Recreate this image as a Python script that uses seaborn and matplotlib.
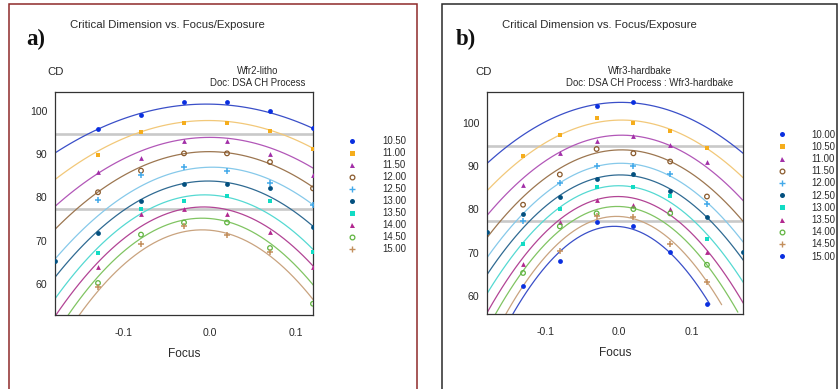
import numpy as np
import pandas as pd
import matplotlib
matplotlib.use("Agg")
import matplotlib.pyplot as plt
import seaborn as sns
from matplotlib.lines import Line2D
from matplotlib.patches import Rectangle

# ---------------- data ----------------
focus = [-0.13, -0.08, -0.03, 0.02, 0.07, 0.12]
NA = np.nan

# panel a) Wfr2-litho
doses_a = ["10.50", "11.00", "11.50", "12.00", "12.50", "13.00", "13.50", "14.00", "14.50", "15.00"]
cd_a = [
    [95.8, 99.1, 102.2, 102.2, 100.1, 96.1],
    [89.8, 95.2, 97.3, 97.3, 95.4, 91.3],
    [85.8, 89.1, 93.1, 93.1, 90.1, 85.2],
    [81.2, 86.2, 90.2, 90.2, 88.2, 82.1],
    [79.3, 85.3, 87.1, 86.2, 83.3, 78.2],
    [71.8, 79.2, 83.2, 83.2, 82.2, 73.2],
    [67.1, 77.3, 79.2, 80.3, 79.2, 67.4],
    [63.9, 76.1, 77.3, 76.1, 72.1, 64.0],
    [60.2, 71.4, 74.2, 74.2, 68.3, 55.4],
    [59.2, 69.3, 73.4, 71.4, 67.3, NA],
]
extra_a_focus = [-0.18]
extra_a_dose = ["13.00"]
extra_a_cd = [65.2]
# fitted curve: apex CD, best focus, curvature
peak_a = [101.6, 97.8, 93.9, 90.6, 87.0, 83.8, 80.6, 77.8, 75.2, 72.5]
best_a = [-0.004, -0.002, 0.0, -0.001, 0.003, -0.002, -0.006, -0.007, -0.009, -0.009]
curv_a = [365, 431, 493, 561, 635, 703, 794, 846, 925, 967]

# panel b) Wfr3-hardbake
doses_b = ["10.00", "10.50", "11.00", "11.50", "12.00", "12.50", "13.00", "13.50", "14.00", "14.50", "15.00 "]
cd_b = [
    [NA, NA, 104.0, 104.9, NA, NA],
    [92.3, 97.2, 101.2, 100.1, 98.2, 94.2],
    [85.7, 93.0, 95.9, 97.0, 94.9, 91.1],
    [81.1, 88.1, 94.0, 93.0, 91.1, 83.0],
    [77.4, 86.1, 90.1, 90.1, 88.1, 81.2],
    [78.9, 83.0, 87.1, 88.1, 84.2, 78.2],
    [72.0, 80.1, 85.1, 85.1, 83.1, 73.2],
    [67.4, 77.2, 82.1, 81.1, 80.2, 70.1],
    [65.3, 76.1, 79.1, 80.1, 79.1, 67.2],
    [NA, 70.3, 78.4, 78.2, 72.1, 63.1],
    [62.2, 68.1, 77.2, 76.2, 70.1, 58.2],
]
extra_b_focus = [-0.179, 0.169]
extra_b_dose = ["12.50", "12.50"]
extra_b_cd = [74.8, 70.1]
peak_b = [104.8, 100.7, 97.2, 93.8, 90.7, 88.0, 85.5, 83.0, 80.7, 78.4, 76.1]
best_b = [0.003, 0.004, 0.004, 0.004, 0.003, 0.002, 0.0, -0.001, -0.002, -0.003, -0.006]
curv_b = [427, 489, 555, 607, 660, 705, 780, 850, 910, 1000, 1068]
curve_end_b = [0.17, 0.17, 0.17, 0.17, 0.17, 0.17, 0.17, 0.17, 0.162, 0.14, 0.124]

spec_limits = [94.6, 77.4]

# ---------------- styles ----------------
BLUE = ("#0a2fe0", "#3a4fc8")
GOLD = ("#f5ad1c", "#f2c879")
PURP = ("#a22fa8", "#b257b8")
BROWN = ("#8a5a2c", "#9c7650")
LBLUE = ("#43a9ea", "#86c9ea")
DTEAL = ("#03507f", "#2f6a92")
TURQ = ("#12dcc4", "#55d9d2")
MAG = ("#b2288f", "#b24495")
GREEN = ("#5fb43f", "#80c462")
TAN = ("#c38f5d", "#c9a37f")

seq = [
    (BLUE, "o", True), (GOLD, "s", True), (PURP, "^", True), (BROWN, "o", False),
    (LBLUE, "+", True), (DTEAL, "o", True), (TURQ, "s", True), (MAG, "^", True),
    (GREEN, "o", False), (TAN, "+", True),
]
style_a = {d: seq[i] for i, d in enumerate(doses_a)}
style_b = {d: seq[i % 10] for i, d in enumerate(doses_b)}

sns.set_theme(style="white")
plt.rcParams["font.family"] = ["Liberation Sans", "DejaVu Sans"]
TXT = "#2a2a2a"

fig = plt.figure(figsize=(8.4, 3.89), dpi=100)


def px(x, y):
    return x / 840.0, 1 - y / 389.0


def draw_panel(ax, doses, cd, styles, peaks, bests, curvs, ends, xlim, ylim,
               ex_f, ex_d, ex_cd):
    # spec lines
    for v in spec_limits:
        ax.axhline(v, color="#c9c9c9", lw=1.9, zorder=1)
    for i, d in enumerate(doses):
        (pc, lc), mk, filled = styles[d]
        xs = np.linspace(xlim[0] - 0.01, ends[i], 60)
        ys = peaks[i] - curvs[i] * (xs - bests[i]) ** 2
        cdf = pd.DataFrame({"Focus": xs, "CD": ys})
        sns.lineplot(data=cdf, x="Focus", y="CD", ax=ax, color=lc, lw=0.9,
                     sort=False, estimator=None, legend=False, zorder=2)
        f = list(focus) + [ex_f[j] for j in range(len(ex_f)) if ex_d[j] == d]
        v = list(cd[i]) + [ex_cd[j] for j in range(len(ex_f)) if ex_d[j] == d]
        pdf = pd.DataFrame({"Focus": f, "CD": v}).dropna()
        if mk == "+":
            sns.scatterplot(data=pdf, x="Focus", y="CD", ax=ax, marker="+", color=pc,
                            s=16, linewidth=1.1, legend=False, zorder=3)
        elif filled:
            sns.scatterplot(data=pdf, x="Focus", y="CD", ax=ax, marker=mk, color=pc,
                            s=12, linewidth=0, legend=False, zorder=3)
        else:
            sns.scatterplot(data=pdf, x="Focus", y="CD", ax=ax, marker="o",
                            facecolors="none", edgecolor=pc, s=11, linewidth=0.9,
                            legend=False, zorder=3)
    ax.set_xlim(*xlim)
    ax.set_ylim(*ylim)
    ax.set_xticks([-0.1, 0.0, 0.1])
    ax.set_xticklabels(["-0.1", "0.0", "0.1"])
    ax.set_xticks([t for t in [-0.15, -0.05, 0.05, 0.15] if xlim[0] < t < xlim[1]], minor=True)
    ax.set_yticks([60, 70, 80, 90, 100])
    ax.set_yticks([t for t in [55, 65, 75, 85, 95, 105] if ylim[0] < t < ylim[1]], minor=True)
    ax.tick_params(axis="both", which="both", direction="inout", length=5, width=0.8,
                   color="#333333", labelsize=7.6, labelcolor=TXT)
    ax.tick_params(axis="x", pad=7)
    ax.tick_params(axis="y", pad=3)
    for sp in ax.spines.values():
        sp.set_color("#333333")
        sp.set_linewidth(0.9)
    ax.set_xlabel("Focus", fontsize=8.6, color=TXT, labelpad=7)
    ax.set_ylabel("")
    ax.grid(False)


def legend(doses, styles, xy, spacing):
    handles = []
    for d in doses:
        (pc, lc), mk, filled = styles[d]
        if mk == "+":
            h = Line2D([], [], ls="none", marker="+", color=pc, ms=4, mew=1.0)
        elif filled:
            h = Line2D([], [], ls="none", marker=mk, color=pc, ms=3.6, mew=0)
        else:
            h = Line2D([], [], ls="none", marker="o", mfc="none", mec=pc, ms=3.4, mew=0.9)
        handles.append(h)
    fig.legend(handles, [d.strip() for d in doses], loc="upper left",
               bbox_to_anchor=xy, frameon=False, fontsize=6.9, handlelength=1.0,
               handletextpad=2.6, labelspacing=spacing, borderpad=0, borderaxespad=0,
               labelcolor=TXT)


# panel frames
fig.patches.append(Rectangle(px(9, 420), 408 / 840, 416 / 389, transform=fig.transFigure,
                             fill=False, edgecolor="#8e2a2a", lw=1.1))
fig.patches.append(Rectangle(px(441.5, 420), 395 / 840, 416 / 389, transform=fig.transFigure,
                             fill=False, edgecolor="#2a2a2a", lw=1.1))

# axes
l, b = px(55, 315)
axA = fig.add_axes([l, b, 258 / 840, 223 / 389])
draw_panel(axA, doses_a, cd_a, style_a, peak_a, best_a, curv_a, [0.13] * len(doses_a),
           (-0.180, 0.120), (52.8, 104.4), extra_a_focus, extra_a_dose, extra_a_cd)
l, b = px(487, 314)
axB = fig.add_axes([l, b, 256 / 840, 222 / 389])
draw_panel(axB, doses_b, cd_b, style_b, peak_b, best_b, curv_b, curve_end_b,
           (-0.179, 0.169), (55.8, 107.2), extra_b_focus, extra_b_dose, extra_b_cd)

legend(doses_a, style_a, px(347.5, 136), 0.21)
legend(doses_b, style_b, px(777, 129.5), 0.23)

# texts
fig.text(*px(70, 25), "Critical Dimension vs. Focus/Exposure", fontsize=8.2, color=TXT,
         va="center", ha="left")
fig.text(*px(502, 25), "Critical Dimension vs. Focus/Exposure", fontsize=8.2, color=TXT,
         va="center", ha="left")
fig.text(*px(26, 39), "a)", fontsize=16.5, fontweight="bold", color="#111111",
         family=["Liberation Serif"], va="center", ha="left")
fig.text(*px(456, 39), "b)", fontsize=16.5, fontweight="bold", color="#111111",
         family=["Liberation Serif"], va="center", ha="left")
fig.text(*px(47, 72), "CD", fontsize=8.2, color=TXT, va="center", ha="left")
fig.text(*px(475, 72), "CD", fontsize=8.2, color=TXT, va="center", ha="left")
fig.text(*px(258, 71), "Wfr2-litho", fontsize=6.9, color=TXT, va="center", ha="center")
fig.text(*px(258, 82.5), "Doc: DSA CH Process", fontsize=6.9, color=TXT, va="center", ha="center")
fig.text(*px(640, 71), "Wfr3-hardbake", fontsize=6.9, color=TXT, va="center", ha="center")
fig.text(*px(650, 82.5), "Doc: DSA CH Process : Wfr3-hardbake", fontsize=6.9, color=TXT,
         va="center", ha="center")

fig.savefig("out.png", dpi=100)
